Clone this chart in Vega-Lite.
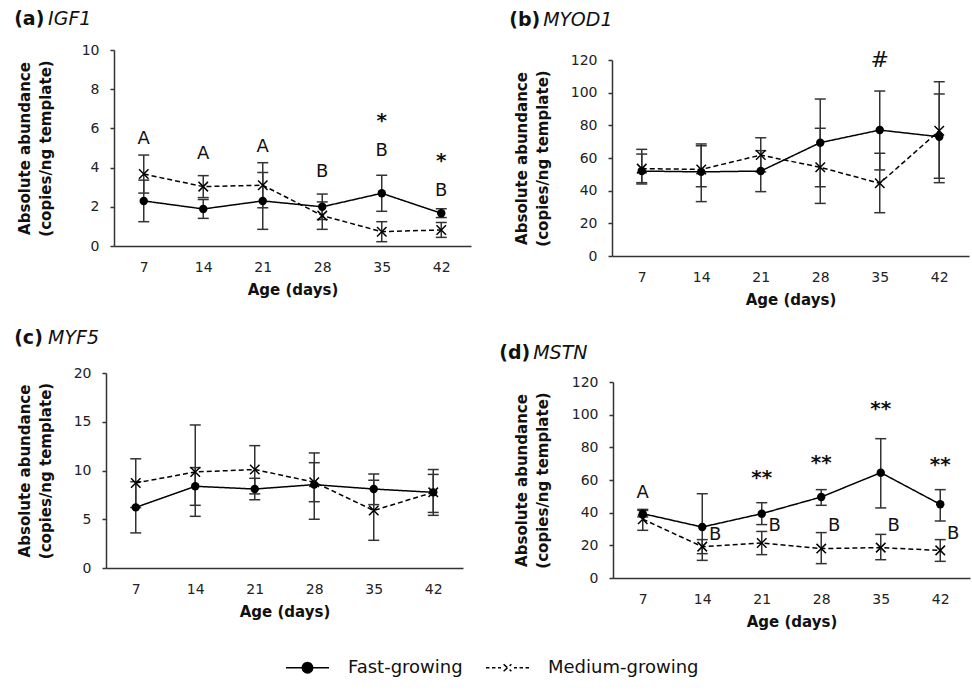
{
  "$schema": "https://vega.github.io/schema/vega-lite/v6.json",
  "padding": {"left": 14, "top": 10, "right": 2, "bottom": 2},
  "background": "white",
  "datasets": {
    "obs": [
      {"gene": "IGF1", "age": 7, "group": "Fast-growing", "mean": 2.3, "lo": 1.24, "hi": 3.36},
      {"gene": "IGF1", "age": 14, "group": "Fast-growing", "mean": 1.89, "lo": 1.41, "hi": 2.37},
      {"gene": "IGF1", "age": 21, "group": "Fast-growing", "mean": 2.3, "lo": 0.85, "hi": 3.75},
      {"gene": "IGF1", "age": 28, "group": "Fast-growing", "mean": 2.0, "lo": 1.35, "hi": 2.65},
      {"gene": "IGF1", "age": 35, "group": "Fast-growing", "mean": 2.69, "lo": 1.77, "hi": 3.61},
      {"gene": "IGF1", "age": 42, "group": "Fast-growing", "mean": 1.67, "lo": 1.45, "hi": 1.9},
      {"gene": "IGF1", "age": 7, "group": "Medium-growing", "mean": 3.67, "lo": 2.7, "hi": 4.64},
      {"gene": "IGF1", "age": 14, "group": "Medium-growing", "mean": 3.03, "lo": 2.47, "hi": 3.59},
      {"gene": "IGF1", "age": 21, "group": "Medium-growing", "mean": 3.1, "lo": 1.95, "hi": 4.25},
      {"gene": "IGF1", "age": 28, "group": "Medium-growing", "mean": 1.55, "lo": 0.85, "hi": 2.25},
      {"gene": "IGF1", "age": 35, "group": "Medium-growing", "mean": 0.73, "lo": 0.22, "hi": 1.24},
      {"gene": "IGF1", "age": 42, "group": "Medium-growing", "mean": 0.82, "lo": 0.44, "hi": 1.2},
      {"gene": "MYOD1", "age": 7, "group": "Fast-growing", "mean": 52, "lo": 44.1, "hi": 62.4},
      {"gene": "MYOD1", "age": 14, "group": "Fast-growing", "mean": 51.5, "lo": 33.3, "hi": 68.6},
      {"gene": "MYOD1", "age": 21, "group": "Fast-growing", "mean": 52, "lo": 39.4, "hi": 64.5},
      {"gene": "MYOD1", "age": 28, "group": "Fast-growing", "mean": 69.4, "lo": 42.4, "hi": 96.1},
      {"gene": "MYOD1", "age": 35, "group": "Fast-growing", "mean": 77.1, "lo": 52.7, "hi": 101},
      {"gene": "MYOD1", "age": 42, "group": "Fast-growing", "mean": 73, "lo": 44.9, "hi": 99.2},
      {"gene": "MYOD1", "age": 7, "group": "Medium-growing", "mean": 53.5, "lo": 44.9, "hi": 65.3},
      {"gene": "MYOD1", "age": 14, "group": "Medium-growing", "mean": 53, "lo": 42.4, "hi": 67.5},
      {"gene": "MYOD1", "age": 21, "group": "Medium-growing", "mean": 61.8, "lo": 51.5, "hi": 72.4},
      {"gene": "MYOD1", "age": 28, "group": "Medium-growing", "mean": 54.3, "lo": 32.2, "hi": 78.2},
      {"gene": "MYOD1", "age": 35, "group": "Medium-growing", "mean": 44.5, "lo": 26.5, "hi": 62.9},
      {"gene": "MYOD1", "age": 42, "group": "Medium-growing", "mean": 76.7, "lo": 47.6, "hi": 106.7},
      {"gene": "MYF5", "age": 7, "group": "Fast-growing", "mean": 6.22, "lo": 3.6, "hi": 8.85},
      {"gene": "MYF5", "age": 14, "group": "Fast-growing", "mean": 8.38, "lo": 6.43, "hi": 10.3},
      {"gene": "MYF5", "age": 21, "group": "Fast-growing", "mean": 8.1, "lo": 7.0, "hi": 9.2},
      {"gene": "MYF5", "age": 28, "group": "Fast-growing", "mean": 8.55, "lo": 5.0, "hi": 11.8},
      {"gene": "MYF5", "age": 35, "group": "Fast-growing", "mean": 8.1, "lo": 6.5, "hi": 9.64},
      {"gene": "MYF5", "age": 42, "group": "Fast-growing", "mean": 7.76, "lo": 5.7, "hi": 9.6},
      {"gene": "MYF5", "age": 7, "group": "Medium-growing", "mean": 8.72, "lo": 6.2, "hi": 11.2},
      {"gene": "MYF5", "age": 14, "group": "Medium-growing", "mean": 9.85, "lo": 5.3, "hi": 14.67},
      {"gene": "MYF5", "age": 21, "group": "Medium-growing", "mean": 10.1, "lo": 7.6, "hi": 12.55},
      {"gene": "MYF5", "age": 28, "group": "Medium-growing", "mean": 8.8, "lo": 6.8, "hi": 10.8},
      {"gene": "MYF5", "age": 35, "group": "Medium-growing", "mean": 5.9, "lo": 2.84, "hi": 9.0},
      {"gene": "MYF5", "age": 42, "group": "Medium-growing", "mean": 7.76, "lo": 5.4, "hi": 10.1},
      {"gene": "MSTN", "age": 7, "group": "Fast-growing", "mean": 39.4, "lo": 37.4, "hi": 41.4},
      {"gene": "MSTN", "age": 14, "group": "Fast-growing", "mean": 31.2, "lo": 10.8, "hi": 51.6},
      {"gene": "MSTN", "age": 21, "group": "Fast-growing", "mean": 39.4, "lo": 32.7, "hi": 46.1},
      {"gene": "MSTN", "age": 28, "group": "Fast-growing", "mean": 49.6, "lo": 44.5, "hi": 54.1},
      {"gene": "MSTN", "age": 35, "group": "Fast-growing", "mean": 64.5, "lo": 42.9, "hi": 85.3},
      {"gene": "MSTN", "age": 42, "group": "Fast-growing", "mean": 45.1, "lo": 34.9, "hi": 54.1},
      {"gene": "MSTN", "age": 7, "group": "Medium-growing", "mean": 36, "lo": 29.2, "hi": 42},
      {"gene": "MSTN", "age": 14, "group": "Medium-growing", "mean": 19.2, "lo": 14.9, "hi": 23.5},
      {"gene": "MSTN", "age": 21, "group": "Medium-growing", "mean": 21.4, "lo": 14.3, "hi": 28.5},
      {"gene": "MSTN", "age": 28, "group": "Medium-growing", "mean": 18, "lo": 8.8, "hi": 27.8},
      {"gene": "MSTN", "age": 35, "group": "Medium-growing", "mean": 18.6, "lo": 11.2, "hi": 26.7},
      {"gene": "MSTN", "age": 42, "group": "Medium-growing", "mean": 16.9, "lo": 10.2, "hi": 23.5}
    ],
    "ann": [
      {"gene": "IGF1", "age": 7, "label": "A", "y": 5.44, "kind": "letter"},
      {"gene": "IGF1", "age": 14, "label": "A", "y": 4.7, "kind": "letter"},
      {"gene": "IGF1", "age": 21, "label": "A", "y": 5.07, "kind": "letter"},
      {"gene": "IGF1", "age": 28, "label": "B", "y": 3.8, "kind": "letter"},
      {"gene": "IGF1", "age": 35, "label": "B", "y": 4.85, "kind": "letter"},
      {"gene": "IGF1", "age": 42, "label": "B", "y": 2.82, "kind": "letter"},
      {"gene": "IGF1", "age": 35, "label": "*", "y": 6.36, "kind": "sig"},
      {"gene": "IGF1", "age": 42, "label": "*", "y": 4.36, "kind": "sig"},
      {"gene": "MYOD1", "age": 35, "label": "#", "y": 120, "kind": "sig"},
      {"gene": "MSTN", "age": 7, "label": "A", "y": 52.2, "kind": "letter"},
      {"gene": "MSTN", "age": 14, "label": "B", "y": 26.1, "kind": "letter"},
      {"gene": "MSTN", "age": 21, "label": "B", "y": 31.6, "kind": "letter"},
      {"gene": "MSTN", "age": 28, "label": "B", "y": 31.6, "kind": "letter"},
      {"gene": "MSTN", "age": 35, "label": "B", "y": 31.6, "kind": "letter"},
      {"gene": "MSTN", "age": 42, "label": "B", "y": 27.1, "kind": "letter"},
      {"gene": "MSTN", "age": 21, "label": "**", "y": 61.4, "kind": "sig"},
      {"gene": "MSTN", "age": 28, "label": "**", "y": 70.5, "kind": "sig"},
      {"gene": "MSTN", "age": 35, "label": "**", "y": 103.5, "kind": "sig"},
      {"gene": "MSTN", "age": 42, "label": "**", "y": 68.9, "kind": "sig"}
    ]
  },
  "vconcat": [
    {
      "hconcat": [
        {
          "width": 365, "height": 196,
          "title": {"text": "(a)", "subtitle": "\u2800\u00a0\u00a0\u00a0\u200aIGF1", "offset": 14, "dx": -3},
          "encoding": {
            "x": {"field": "age", "type": "ordinal", "scale": {"type": "point", "padding": 0.5, "range": [8, 365]}, "axis": {"title": "Age (days)"}},
            "y": {"field": "mean", "type": "quantitative", "scale": {"domain": [0, 10]}, "axis": {"values": [0, 2, 4, 6, 8, 10], "titlePadding": 28, "offset": -8}, "title": ["Absolute abundance", "(copies/ng template)"]}
          },
          "layer": [
            {"data": {"name": "obs"}, "transform": [{"filter": "datum.gene == 'IGF1'"}], "mark": {"type": "rule", "color": "#333", "strokeWidth": 1.5},
             "encoding": {"y": {"field": "lo", "type": "quantitative", "scale": {"domain": [0, 10]}, "axis": {"values": [0, 2, 4, 6, 8, 10], "titlePadding": 28, "offset": -8}, "title": ["Absolute abundance", "(copies/ng template)"]}, "y2": {"field": "hi"}}},
            {"data": {"name": "obs"}, "transform": [{"filter": "datum.gene == 'IGF1'"}], "mark": {"type": "tick", "color": "#333", "thickness": 1.5, "size": 11, "opacity": 1},
             "encoding": {"y": {"field": "lo", "type": "quantitative", "scale": {"domain": [0, 10]}, "axis": {"values": [0, 2, 4, 6, 8, 10], "titlePadding": 28, "offset": -8}, "title": ["Absolute abundance", "(copies/ng template)"]}}},
            {"data": {"name": "obs"}, "transform": [{"filter": "datum.gene == 'IGF1'"}], "mark": {"type": "tick", "color": "#333", "thickness": 1.5, "size": 11, "opacity": 1},
             "encoding": {"y": {"field": "hi", "type": "quantitative", "scale": {"domain": [0, 10]}, "axis": {"values": [0, 2, 4, 6, 8, 10], "titlePadding": 28, "offset": -8}, "title": ["Absolute abundance", "(copies/ng template)"]}}},
            {"data": {"name": "obs"}, "transform": [{"filter": "datum.gene == 'IGF1'"}], "mark": {"type": "line", "color": "black", "strokeWidth": 1.5},
             "encoding": {"strokeDash": {"field": "group", "type": "nominal", "scale": {"domain": ["Fast-growing", "Medium-growing"], "range": [[1, 0], [5, 3]]},
               "legend": {"title": null, "orient": "bottom", "offset": 16, "direction": "horizontal", "symbolSize": 1849, "symbolStrokeWidth": 1.5, "labelFontSize": 18, "labelColor": "#111", "labelOffset": 18, "columnPadding": 20,
                 "encoding": {"symbols": {"shape": {"condition": {"test": "datum.value === 'Fast-growing'", "value": "M-1,0L1,0M-0.24,0A0.24,0.24,0,1,1,0.24,0A0.24,0.24,0,1,1,-0.24,0Z"}, "value": "M-1,0L-0.84,0M-0.72,0L-0.56,0M-0.44,0L-0.3,0M-0.18,-0.16L0.18,0.16M-0.18,0.16L0.18,-0.16M0.3,0L0.44,0M0.56,0L0.72,0M0.84,0L1,0"}, "fill": {"value": "black"}, "stroke": {"value": "black"}, "strokeDash": {"value": [1, 0]}, "opacity": {"value": 1}}}}}}},
            {"data": {"name": "obs"}, "transform": [{"filter": "datum.gene == 'IGF1' && datum.group == 'Fast-growing'"}], "mark": {"type": "point", "shape": "circle", "filled": true, "size": 71, "color": "black", "opacity": 1}},
            {"data": {"name": "obs"}, "transform": [{"filter": "datum.gene == 'IGF1' && datum.group == 'Medium-growing'"}], "mark": {"type": "point", "shape": "M-1,-1L1,1M-1,1L1,-1", "filled": false, "size": 90, "color": "black", "strokeWidth": 1.5, "opacity": 1}},
            {"data": {"name": "ann"}, "transform": [{"filter": "datum.gene == 'IGF1' && datum.kind == 'letter'"}], "mark": {"type": "text", "fontSize": 18, "color": "#111", "baseline": "middle"},
             "encoding": {"y": {"field": "y", "type": "quantitative", "scale": {"domain": [0, 10]}, "axis": {"values": [0, 2, 4, 6, 8, 10], "titlePadding": 28, "offset": -8}, "title": ["Absolute abundance", "(copies/ng template)"]}, "text": {"field": "label"}}},
            {"data": {"name": "ann"}, "transform": [{"filter": "datum.gene == 'IGF1' && datum.kind == 'sig'"}], "mark": {"type": "text", "fontSize": 20, "fontWeight": "bold", "color": "#111", "baseline": "middle"},
             "encoding": {"y": {"field": "y", "type": "quantitative", "scale": {"domain": [0, 10]}, "axis": {"values": [0, 2, 4, 6, 8, 10], "titlePadding": 28, "offset": -8}, "title": ["Absolute abundance", "(copies/ng template)"]}, "text": {"field": "label"}}}
          ]
        },
        {
          "width": 357, "height": 206,
          "title": {"text": "(b)", "subtitle": "\u2800\u00a0\u00a0\u00a0\u200aMYOD1", "offset": 19, "dx": -5},
          "encoding": {
            "x": {"field": "age", "type": "ordinal", "scale": {"type": "point", "padding": 0.5}, "axis": {"title": "Age (days)"}},
            "y": {"field": "mean", "type": "quantitative", "scale": {"domain": [0, 120], "range": [206, 10]}, "axis": {"values": [0, 20, 40, 60, 80, 100, 120], "titlePadding": 20}, "title": ["Absolute abundance", "(copies/ng template)"]}
          },
          "layer": [
            {"data": {"name": "obs"}, "transform": [{"filter": "datum.gene == 'MYOD1'"}], "mark": {"type": "rule", "color": "#333", "strokeWidth": 1.5},
             "encoding": {"y": {"field": "lo", "type": "quantitative", "scale": {"domain": [0, 120], "range": [206, 10]}, "axis": {"values": [0, 20, 40, 60, 80, 100, 120], "titlePadding": 20}, "title": ["Absolute abundance", "(copies/ng template)"]}, "y2": {"field": "hi"}}},
            {"data": {"name": "obs"}, "transform": [{"filter": "datum.gene == 'MYOD1'"}], "mark": {"type": "tick", "color": "#333", "thickness": 1.5, "size": 11, "opacity": 1},
             "encoding": {"y": {"field": "lo", "type": "quantitative", "scale": {"domain": [0, 120], "range": [206, 10]}, "axis": {"values": [0, 20, 40, 60, 80, 100, 120], "titlePadding": 20}, "title": ["Absolute abundance", "(copies/ng template)"]}}},
            {"data": {"name": "obs"}, "transform": [{"filter": "datum.gene == 'MYOD1'"}], "mark": {"type": "tick", "color": "#333", "thickness": 1.5, "size": 11, "opacity": 1},
             "encoding": {"y": {"field": "hi", "type": "quantitative", "scale": {"domain": [0, 120], "range": [206, 10]}, "axis": {"values": [0, 20, 40, 60, 80, 100, 120], "titlePadding": 20}, "title": ["Absolute abundance", "(copies/ng template)"]}}},
            {"data": {"name": "obs"}, "transform": [{"filter": "datum.gene == 'MYOD1'"}], "mark": {"type": "line", "color": "black", "strokeWidth": 1.5},
             "encoding": {"strokeDash": {"field": "group", "type": "nominal", "scale": {"domain": ["Fast-growing", "Medium-growing"], "range": [[1, 0], [5, 3]]},
               "legend": {"title": null, "orient": "bottom", "offset": 16, "direction": "horizontal", "symbolSize": 1849, "symbolStrokeWidth": 1.5, "labelFontSize": 18, "labelColor": "#111", "labelOffset": 18, "columnPadding": 20,
                 "encoding": {"symbols": {"shape": {"condition": {"test": "datum.value === 'Fast-growing'", "value": "M-1,0L1,0M-0.24,0A0.24,0.24,0,1,1,0.24,0A0.24,0.24,0,1,1,-0.24,0Z"}, "value": "M-1,0L-0.84,0M-0.72,0L-0.56,0M-0.44,0L-0.3,0M-0.18,-0.16L0.18,0.16M-0.18,0.16L0.18,-0.16M0.3,0L0.44,0M0.56,0L0.72,0M0.84,0L1,0"}, "fill": {"value": "black"}, "stroke": {"value": "black"}, "strokeDash": {"value": [1, 0]}, "opacity": {"value": 1}}}}}}},
            {"data": {"name": "obs"}, "transform": [{"filter": "datum.gene == 'MYOD1' && datum.group == 'Fast-growing'"}], "mark": {"type": "point", "shape": "circle", "filled": true, "size": 71, "color": "black", "opacity": 1}},
            {"data": {"name": "obs"}, "transform": [{"filter": "datum.gene == 'MYOD1' && datum.group == 'Medium-growing'"}], "mark": {"type": "point", "shape": "M-1,-1L1,1M-1,1L1,-1", "filled": false, "size": 90, "color": "black", "strokeWidth": 1.5, "opacity": 1}},
            {"data": {"name": "ann"}, "transform": [{"filter": "datum.gene == 'MYOD1' && datum.kind == 'sig'"}], "mark": {"type": "text", "fontSize": 22, "color": "#111", "baseline": "middle"},
             "encoding": {"y": {"field": "y", "type": "quantitative", "scale": {"domain": [0, 120], "range": [206, 10]}, "axis": {"values": [0, 20, 40, 60, 80, 100, 120], "titlePadding": 20}, "title": ["Absolute abundance", "(copies/ng template)"]}, "text": {"field": "label"}}}
          ]
        }
      ],
      "spacing": 38
    },
    {
      "hconcat": [
        {
          "width": 357, "height": 195,
          "title": {"text": "(c)", "subtitle": "\u2800\u00a0\u00a0\u00a0\u200aMYF5", "offset": 18, "dx": -3},
          "encoding": {
            "x": {"field": "age", "type": "ordinal", "scale": {"type": "point", "padding": 0.5}, "axis": {"title": "Age (days)"}},
            "y": {"field": "mean", "type": "quantitative", "scale": {"domain": [0, 20]}, "axis": {"values": [0, 5, 10, 15, 20], "titlePadding": 20}, "title": ["Absolute abundance", "(copies/ng template)"]}
          },
          "layer": [
            {"data": {"name": "obs"}, "transform": [{"filter": "datum.gene == 'MYF5'"}], "mark": {"type": "rule", "color": "#333", "strokeWidth": 1.5},
             "encoding": {"y": {"field": "lo", "type": "quantitative", "scale": {"domain": [0, 20]}, "axis": {"values": [0, 5, 10, 15, 20], "titlePadding": 20}, "title": ["Absolute abundance", "(copies/ng template)"]}, "y2": {"field": "hi"}}},
            {"data": {"name": "obs"}, "transform": [{"filter": "datum.gene == 'MYF5'"}], "mark": {"type": "tick", "color": "#333", "thickness": 1.5, "size": 11, "opacity": 1},
             "encoding": {"y": {"field": "lo", "type": "quantitative", "scale": {"domain": [0, 20]}, "axis": {"values": [0, 5, 10, 15, 20], "titlePadding": 20}, "title": ["Absolute abundance", "(copies/ng template)"]}}},
            {"data": {"name": "obs"}, "transform": [{"filter": "datum.gene == 'MYF5'"}], "mark": {"type": "tick", "color": "#333", "thickness": 1.5, "size": 11, "opacity": 1},
             "encoding": {"y": {"field": "hi", "type": "quantitative", "scale": {"domain": [0, 20]}, "axis": {"values": [0, 5, 10, 15, 20], "titlePadding": 20}, "title": ["Absolute abundance", "(copies/ng template)"]}}},
            {"data": {"name": "obs"}, "transform": [{"filter": "datum.gene == 'MYF5'"}], "mark": {"type": "line", "color": "black", "strokeWidth": 1.5},
             "encoding": {"strokeDash": {"field": "group", "type": "nominal", "scale": {"domain": ["Fast-growing", "Medium-growing"], "range": [[1, 0], [5, 3]]},
               "legend": {"title": null, "orient": "bottom", "offset": 16, "direction": "horizontal", "symbolSize": 1849, "symbolStrokeWidth": 1.5, "labelFontSize": 18, "labelColor": "#111", "labelOffset": 18, "columnPadding": 20,
                 "encoding": {"symbols": {"shape": {"condition": {"test": "datum.value === 'Fast-growing'", "value": "M-1,0L1,0M-0.24,0A0.24,0.24,0,1,1,0.24,0A0.24,0.24,0,1,1,-0.24,0Z"}, "value": "M-1,0L-0.84,0M-0.72,0L-0.56,0M-0.44,0L-0.3,0M-0.18,-0.16L0.18,0.16M-0.18,0.16L0.18,-0.16M0.3,0L0.44,0M0.56,0L0.72,0M0.84,0L1,0"}, "fill": {"value": "black"}, "stroke": {"value": "black"}, "strokeDash": {"value": [1, 0]}, "opacity": {"value": 1}}}}}}},
            {"data": {"name": "obs"}, "transform": [{"filter": "datum.gene == 'MYF5' && datum.group == 'Fast-growing'"}], "mark": {"type": "point", "shape": "circle", "filled": true, "size": 71, "color": "black", "opacity": 1}},
            {"data": {"name": "obs"}, "transform": [{"filter": "datum.gene == 'MYF5' && datum.group == 'Medium-growing'"}], "mark": {"type": "point", "shape": "M-1,-1L1,1M-1,1L1,-1", "filled": false, "size": 90, "color": "black", "strokeWidth": 1.5, "opacity": 1}}
          ]
        },
        {
          "width": 357, "height": 205,
          "title": {"text": "(d)", "subtitle": "\u2800\u00a0\u00a0\u00a0\u200aMSTN", "offset": 10, "dx": -15},
          "encoding": {
            "x": {"field": "age", "type": "ordinal", "scale": {"type": "point", "padding": 0.5}, "axis": {"title": "Age (days)"}},
            "y": {"field": "mean", "type": "quantitative", "scale": {"domain": [0, 120], "range": [205, 9]}, "axis": {"values": [0, 20, 40, 60, 80, 100, 120], "titlePadding": 21}, "title": ["Absolute abundance", "(copies/ng template)"]}
          },
          "layer": [
            {"data": {"name": "obs"}, "transform": [{"filter": "datum.gene == 'MSTN'"}], "mark": {"type": "rule", "color": "#333", "strokeWidth": 1.5},
             "encoding": {"y": {"field": "lo", "type": "quantitative", "scale": {"domain": [0, 120], "range": [205, 9]}, "axis": {"values": [0, 20, 40, 60, 80, 100, 120], "titlePadding": 21}, "title": ["Absolute abundance", "(copies/ng template)"]}, "y2": {"field": "hi"}}},
            {"data": {"name": "obs"}, "transform": [{"filter": "datum.gene == 'MSTN'"}], "mark": {"type": "tick", "color": "#333", "thickness": 1.5, "size": 11, "opacity": 1},
             "encoding": {"y": {"field": "lo", "type": "quantitative", "scale": {"domain": [0, 120], "range": [205, 9]}, "axis": {"values": [0, 20, 40, 60, 80, 100, 120], "titlePadding": 21}, "title": ["Absolute abundance", "(copies/ng template)"]}}},
            {"data": {"name": "obs"}, "transform": [{"filter": "datum.gene == 'MSTN'"}], "mark": {"type": "tick", "color": "#333", "thickness": 1.5, "size": 11, "opacity": 1},
             "encoding": {"y": {"field": "hi", "type": "quantitative", "scale": {"domain": [0, 120], "range": [205, 9]}, "axis": {"values": [0, 20, 40, 60, 80, 100, 120], "titlePadding": 21}, "title": ["Absolute abundance", "(copies/ng template)"]}}},
            {"data": {"name": "obs"}, "transform": [{"filter": "datum.gene == 'MSTN'"}], "mark": {"type": "line", "color": "black", "strokeWidth": 1.5},
             "encoding": {"strokeDash": {"field": "group", "type": "nominal", "scale": {"domain": ["Fast-growing", "Medium-growing"], "range": [[1, 0], [5, 3]]},
               "legend": {"title": null, "orient": "bottom", "offset": 16, "direction": "horizontal", "symbolSize": 1849, "symbolStrokeWidth": 1.5, "labelFontSize": 18, "labelColor": "#111", "labelOffset": 18, "columnPadding": 20,
                 "encoding": {"symbols": {"shape": {"condition": {"test": "datum.value === 'Fast-growing'", "value": "M-1,0L1,0M-0.24,0A0.24,0.24,0,1,1,0.24,0A0.24,0.24,0,1,1,-0.24,0Z"}, "value": "M-1,0L-0.84,0M-0.72,0L-0.56,0M-0.44,0L-0.3,0M-0.18,-0.16L0.18,0.16M-0.18,0.16L0.18,-0.16M0.3,0L0.44,0M0.56,0L0.72,0M0.84,0L1,0"}, "fill": {"value": "black"}, "stroke": {"value": "black"}, "strokeDash": {"value": [1, 0]}, "opacity": {"value": 1}}}}}}},
            {"data": {"name": "obs"}, "transform": [{"filter": "datum.gene == 'MSTN' && datum.group == 'Fast-growing'"}], "mark": {"type": "point", "shape": "circle", "filled": true, "size": 71, "color": "black", "opacity": 1}},
            {"data": {"name": "obs"}, "transform": [{"filter": "datum.gene == 'MSTN' && datum.group == 'Medium-growing'"}], "mark": {"type": "point", "shape": "M-1,-1L1,1M-1,1L1,-1", "filled": false, "size": 90, "color": "black", "strokeWidth": 1.5, "opacity": 1}},
            {"data": {"name": "ann"}, "transform": [{"filter": "datum.gene == 'MSTN' && datum.label == 'A'"}], "mark": {"type": "text", "fontSize": 18, "color": "#111", "baseline": "middle"},
             "encoding": {"y": {"field": "y", "type": "quantitative", "scale": {"domain": [0, 120], "range": [205, 9]}, "axis": {"values": [0, 20, 40, 60, 80, 100, 120], "titlePadding": 21}, "title": ["Absolute abundance", "(copies/ng template)"]}, "text": {"field": "label"}}},
            {"data": {"name": "ann"}, "transform": [{"filter": "datum.gene == 'MSTN' && datum.label == 'B'"}], "mark": {"type": "text", "fontSize": 18, "color": "#111", "baseline": "middle", "dx": 13},
             "encoding": {"y": {"field": "y", "type": "quantitative", "scale": {"domain": [0, 120], "range": [205, 9]}, "axis": {"values": [0, 20, 40, 60, 80, 100, 120], "titlePadding": 21}, "title": ["Absolute abundance", "(copies/ng template)"]}, "text": {"field": "label"}}},
            {"data": {"name": "ann"}, "transform": [{"filter": "datum.gene == 'MSTN' && datum.kind == 'sig'"}], "mark": {"type": "text", "fontSize": 20, "fontWeight": "bold", "color": "#111", "baseline": "middle"},
             "encoding": {"y": {"field": "y", "type": "quantitative", "scale": {"domain": [0, 120], "range": [205, 9]}, "axis": {"values": [0, 20, 40, 60, 80, 100, 120], "titlePadding": 21}, "title": ["Absolute abundance", "(copies/ng template)"]}, "text": {"field": "label"}}}
          ]
        }
      ],
      "spacing": 36
    }
  ],
  "spacing": 22,
  "config": {
    "font": "DejaVu Sans",
    "view": {"stroke": null},
    "axis": {"grid": false, "domainColor": "#333", "domainWidth": 1.5, "labelColor": "#222", "labelFontSize": 14, "titleColor": "#111", "titleFontSize": 15, "titleFontWeight": "bold", "tickColor": "#333"},
    "axisX": {"ticks": false, "labelPadding": 14, "labelAngle": 0, "titlePadding": 8},
    "axisY": {"tickSize": 4, "tickWidth": 1.5, "labelPadding": 11, "titleLineHeight": 21},
    "legend": {"layout": {"bottom": {"anchor": "middle"}}},
    "title": {"anchor": "start", "fontSize": 19, "fontWeight": "bold", "color": "#111", "subtitleFontSize": 19, "subtitleFontStyle": "italic", "subtitleFontWeight": "normal", "subtitleColor": "#111", "subtitlePadding": -19}
  }
}
